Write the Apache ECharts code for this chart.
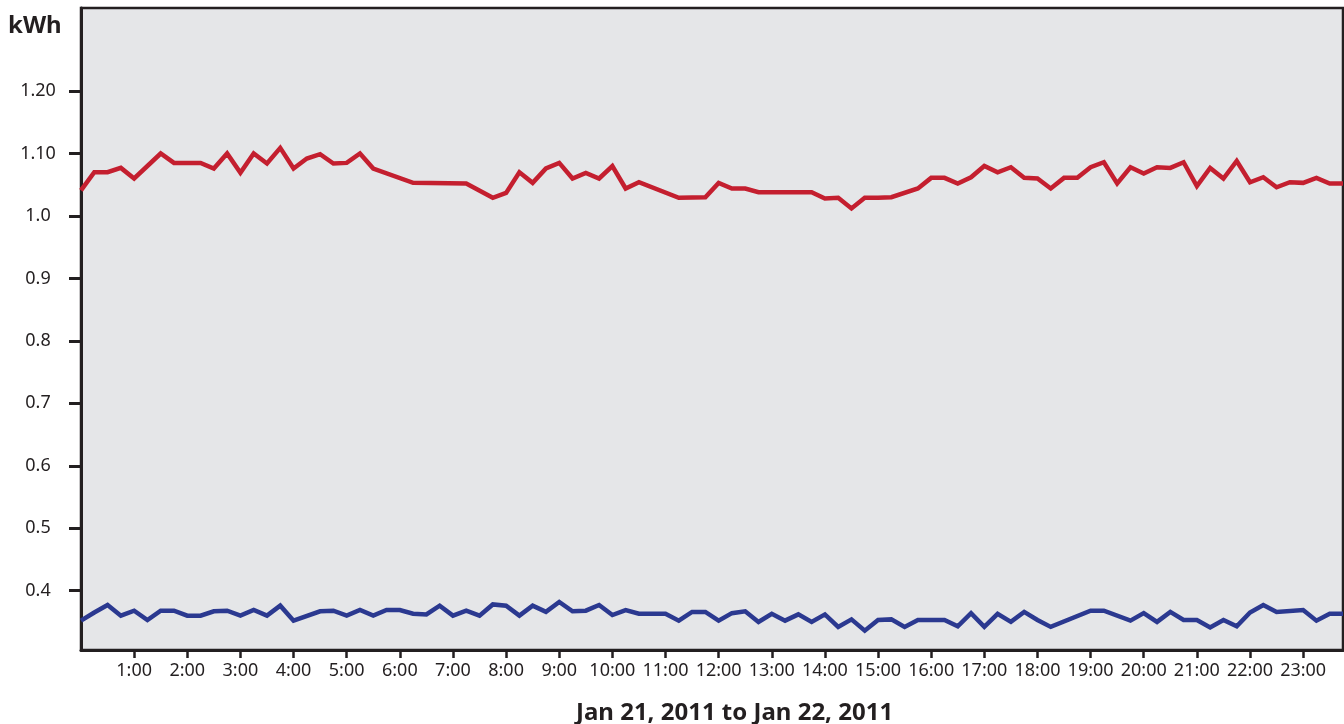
<!DOCTYPE html>
<html>
<head>
<meta charset="utf-8">
<script src="https://cdn.jsdelivr.net/npm/echarts@6/dist/echarts.min.js"></script>
<style>
  html, body { margin: 0; padding: 0; background: #fff; }
  #chart { width: 1344px; height: 724px; }
</style>
</head>
<body>
<div id="chart"></div>
<script>
// times are hours since 0:00 on Jan 21 (15 minute readings, gaps are joined)
const redTimes = [0, 0.25, 0.5, 0.75, 1, 1.5, 1.75, 2.25, 2.5, 2.75, 3, 3.25, 3.5, 3.75, 4, 4.25, 4.5, 4.75, 5, 5.25, 5.5,
  6.25, 7.25, 7.75, 8, 8.25, 8.5, 8.75, 9, 9.25, 9.5, 9.75, 10, 10.25, 10.5, 11.25, 11.75, 12, 12.25, 12.5, 12.75,
  13.75, 14, 14.25, 14.5, 14.75, 15, 15.25, 15.75, 16, 16.25, 16.5, 16.75, 17, 17.25, 17.5, 17.75, 18, 18.25, 18.5,
  18.75, 19, 19.25, 19.5, 19.75, 20, 20.25, 20.5, 20.75, 21, 21.25, 21.5, 21.75, 22, 22.25, 22.5, 22.75, 23, 23.25,
  23.5, 23.75];
const redValues = [1.041, 1.070, 1.070, 1.077, 1.060, 1.100, 1.085, 1.085, 1.076, 1.100, 1.069, 1.100, 1.084, 1.109,
  1.076, 1.092, 1.099, 1.084, 1.085, 1.100, 1.076, 1.053, 1.052, 1.029, 1.037, 1.070, 1.053, 1.076, 1.085, 1.060,
  1.069, 1.060, 1.080, 1.044, 1.054, 1.029, 1.030, 1.053, 1.044, 1.044, 1.038, 1.038, 1.028, 1.029, 1.012, 1.029,
  1.029, 1.030, 1.044, 1.061, 1.061, 1.052, 1.062, 1.080, 1.070, 1.078, 1.061, 1.060, 1.044, 1.061, 1.061, 1.078,
  1.086, 1.052, 1.078, 1.068, 1.078, 1.077, 1.086, 1.048, 1.077, 1.060, 1.088, 1.054, 1.062, 1.046, 1.054, 1.053,
  1.061, 1.052, 1.052];

const blueTimes = [0, 0.25, 0.5, 0.75, 1, 1.25, 1.5, 1.75, 2, 2.25, 2.5, 2.75, 3, 3.25, 3.5, 3.75, 4, 4.5, 4.75, 5,
  5.25, 5.5, 5.75, 6, 6.25, 6.5, 6.75, 7, 7.25, 7.5, 7.75, 8, 8.25, 8.5, 8.75, 9, 9.25, 9.5, 9.75, 10, 10.25, 10.5,
  11, 11.25, 11.5, 11.75, 12, 12.25, 12.5, 12.75, 13, 13.25, 13.5, 13.75, 14, 14.25, 14.5, 14.75, 15, 15.25, 15.5,
  15.75, 16.25, 16.5, 16.75, 17, 17.25, 17.5, 17.75, 18, 18.25, 19, 19.25, 19.75, 20, 20.25, 20.5, 20.75, 21, 21.25,
  21.5, 21.75, 22, 22.25, 22.5, 23, 23.25, 23.5, 23.75];
const blueValues = [0.352, 0.365, 0.377, 0.360, 0.368, 0.353, 0.368, 0.368, 0.360, 0.360, 0.367, 0.368, 0.360, 0.369,
  0.360, 0.376, 0.352, 0.367, 0.368, 0.360, 0.369, 0.360, 0.369, 0.369, 0.363, 0.362, 0.376, 0.360, 0.368, 0.360,
  0.378, 0.376, 0.360, 0.376, 0.366, 0.382, 0.367, 0.368, 0.377, 0.361, 0.369, 0.363, 0.363, 0.352, 0.366, 0.366,
  0.352, 0.364, 0.367, 0.350, 0.363, 0.352, 0.362, 0.350, 0.362, 0.342, 0.354, 0.336, 0.353, 0.354, 0.342, 0.353,
  0.353, 0.343, 0.364, 0.342, 0.363, 0.350, 0.366, 0.353, 0.342, 0.368, 0.368, 0.352, 0.364, 0.350, 0.366, 0.353,
  0.353, 0.341, 0.353, 0.343, 0.365, 0.377, 0.366, 0.369, 0.352, 0.363, 0.363];

const xTickHours = [1, 2, 3, 4, 5, 6, 7, 8, 9, 10, 11, 12, 13, 14, 15, 16, 17, 18, 19, 20, 21, 22, 23];
const yTickValues = [0.4, 0.5, 0.6, 0.7, 0.8, 0.9, 1.0, 1.1, 1.2];
const yTickLabels = ['0.4', '0.5', '0.6', '0.7', '0.8', '0.9', '1.0', '1.10', '1.20'];

const ink = '#231f20';
const font = 'Noto Sans';

function pairs(times, values) {
  return times.map((t, i) => [t, values[i]]);
}

function yLabel(v) {
  const idx = yTickValues.findIndex((t) => Math.abs(t - v) < 1e-6);
  return idx >= 0 ? yTickLabels[idx] : '';
}

const chart = echarts.init(document.getElementById('chart'));

chart.setOption({
  animation: false,
  backgroundColor: '#ffffff',
  title: [
    { text: 'kWh', left: 3, top: 9, textStyle: { color: ink, fontFamily: font, fontWeight: 'bold', fontSize: 24 } },
    { text: 'Jan 21, 2011 to Jan 22, 2011', left: 571, top: 696,
      textStyle: { color: ink, fontFamily: font, fontWeight: 'bold', fontSize: 24 } }
  ],
  grid: {
    left: 81, right: 1, top: 8, bottom: 74,
    show: true,
    backgroundColor: '#e5e6e8',
    borderColor: ink,
    borderWidth: 2.5
  },
  xAxis: {
    type: 'value',
    min: 0,
    max: 23.75,
    axisLine: { show: true, lineStyle: { color: ink, width: 3 } },
    axisTick: { show: true, customValues: xTickHours, length: 8, lineStyle: { color: ink, width: 2.5 } },
    axisLabel: {
      customValues: xTickHours,
      formatter: (v) => `${v}:00`,
      color: ink, fontFamily: font, fontSize: 18, margin: 12
    },
    splitLine: { show: false }
  },
  yAxis: {
    type: 'value',
    min: 0.305,
    max: 1.333,
    axisLine: { show: true, lineStyle: { color: ink, width: 3 } },
    axisTick: { show: true, customValues: yTickValues, length: 12, lineStyle: { color: ink, width: 3 } },
    axisLabel: {
      customValues: yTickValues,
      formatter: yLabel,
      align: 'center',
      color: ink, fontFamily: font, fontSize: 18, margin: 43
    },
    splitLine: { show: false }
  },
  series: [
    {
      type: 'line',
      data: pairs(redTimes, redValues),
      symbol: 'none',
      lineStyle: { color: '#c41f2f', width: 4.5, join: 'miter' },
      emphasis: { disabled: true }
    },
    {
      type: 'line',
      data: pairs(blueTimes, blueValues),
      symbol: 'none',
      lineStyle: { color: '#2b3990', width: 4.5, join: 'miter' },
      emphasis: { disabled: true }
    }
  ]
});
</script>
</body>
</html>
